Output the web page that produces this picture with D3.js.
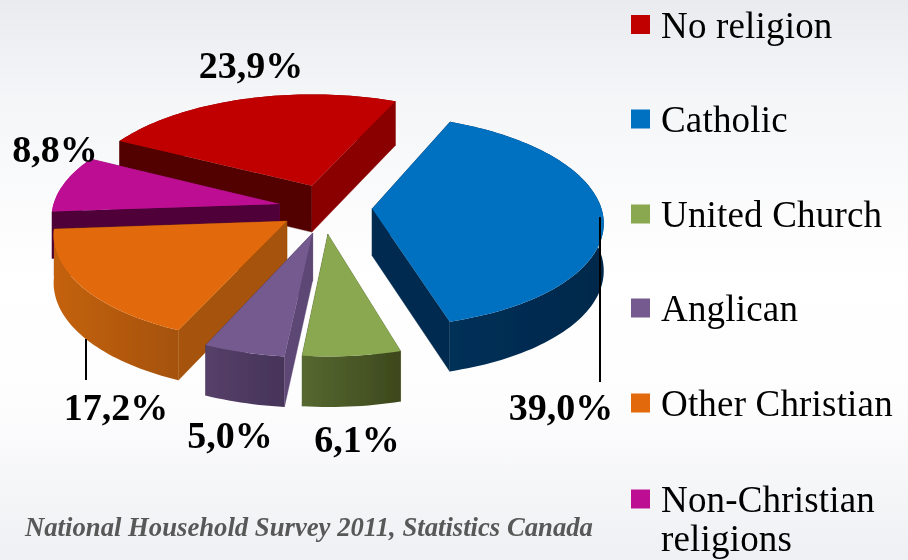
<!DOCTYPE html>
<html><head><meta charset="utf-8">
<script src="https://cdnjs.cloudflare.com/ajax/libs/d3/7.8.5/d3.min.js"></script>
<style>html,body{margin:0;padding:0;background:#fff;overflow:hidden}svg{display:block}</style>
</head><body><svg id="c" width="908" height="560"></svg>
<script>
// Data
const categories = ["No religion","Catholic","United Church","Anglican","Other Christian","Non-Christian religions"];
const shares = [23.9,39.0,6.1,5.0,17.2,8.8];
const shareLabels = ["23,9%","39,0%","6,1%","5,0%","17,2%","8,8%"];
const caption = "National Household Survey 2011, Statistics Canada";

// Style and layout
const topColors = ["#c00000","#0070c0","#8aa84f","#755a90","#e26b0a","#bd1193"];
const startWall = ["#520000","#002c4f","#4f6030","#5d4675","#a55208","#4f0039"];
const endWall   = ["#8a0000","#002c4f","#3f4a1d","#463459","#8a4406","#8f0c6e"];
const rimFrom   = ["#8a0000","#003058","#566830","#564069","#c4620c","#a00f7c"];
const rimTo     = ["#8a0000","#00284a","#3d481c","#463459","#a55208","#8f0c6e"];
const explodeX = [-0.036,0.225,0.033,-0.031,-0.141,-0.176];
const explodeZ = [-0.235,-0.012,0.222,0.212,0.103,-0.057];
const radiusScale = [1.012,0.99,0.97,0.985,0.985,0.98];
const paintOrder = [0,1,5,4,3,2];
const labelX = [251,561,357,230,116,55];
const labelY = [78,420,452,448,420,162];
const legendY = [37.5,132,227,321,416,512];
const cx=320, cy=210, R=232, RK=106, persp=0.115, wallH=47;

const svg = d3.select("#c");
const defs = svg.append("defs");
const bg = defs.append("linearGradient").attr("id","bg").attr("x1",0).attr("x2",0).attr("y1",0).attr("y2",1);
[[0,"#e9ebef"],[0.18,"#f5f6f8"],[0.5,"#ffffff"],[0.72,"#fdfdfe"],[1,"#eff0f3"]].forEach(s=>bg.append("stop").attr("offset",s[0]).attr("stop-color",s[1]));
const soft = defs.append("filter").attr("id","soft").attr("x","-5%").attr("y","-5%").attr("width","110%").attr("height","110%");
soft.append("feGaussianBlur").attr("stdDeviation",0.55);
svg.append("rect").attr("width",908).attr("height",560).attr("fill","url(#bg)");
const root = svg.append("g").attr("filter","url(#soft)");

const pie = d3.pie().sort(null).startAngle(-62.5*Math.PI/180).endAngle((360-62.5)*Math.PI/180);
const arcs = pie(shares);
const sx = d3.scaleLinear().domain([0,1]).range([0,R]);
const sz = d3.scaleLinear().domain([0,1]).range([0,RK]);
function project(gx,gz){const w=1-persp*gz;return {x:cx+sx(gx)/w,y:cy+sz(gz)/w,h:wallH*Math.pow(w,-0.5)};}
const line = d3.line().x(d=>d.x).y(d=>d.y);

arcs.forEach((a,i)=>{
  const g = defs.append("linearGradient").attr("id","rim"+i).attr("x1",0).attr("x2",1).attr("y1",0).attr("y2",0);
  g.append("stop").attr("offset",0).attr("stop-color",rimFrom[i]);
  g.append("stop").attr("offset",1).attr("stop-color",rimTo[i]);
});

paintOrder.forEach(i=>{
  const a = arcs[i], ex=explodeX[i], ez=explodeZ[i], rs=radiusScale[i];
  const apex = project(ex,ez);
  const n = Math.max(8,Math.round((a.endAngle-a.startAngle)*40));
  const rim = d3.range(n+1).map(k=>{
    const t=a.startAngle+(a.endAngle-a.startAngle)*k/n;
    return project(ex+rs*Math.sin(t),ez-rs*Math.cos(t));
  });
  const down = p=>({x:p.x,y:p.y+p.h});
  const s = root.append("g").attr("class","slice").datum(categories[i]);
  const first=rim[0], last=rim[n];
  const startPath = line([apex,first,down(first),down(apex)])+"Z";
  const endPath = line([apex,last,down(last),down(apex)])+"Z";
  const startFront = Math.sin(a.startAngle)<0, endFront = Math.sin(a.endAngle)>0;
  const wall=(d,c)=>s.append("path").attr("d",d).attr("fill",c).attr("stroke",c).attr("stroke-width",.4);
  if(!startFront) wall(startPath,startWall[i]);
  if(!endFront) wall(endPath,endWall[i]);
  s.append("path").attr("d",line(rim.concat(rim.slice().reverse().map(down)))+"Z").attr("fill","url(#rim"+i+")");
  if(startFront) wall(startPath,startWall[i]);
  if(endFront) wall(endPath,endWall[i]);
  s.append("path").attr("d",line([apex].concat(rim))+"Z").attr("fill",topColors[i]);
});

// Leader lines
root.append("line").attr("x1",600).attr("x2",600).attr("y1",217).attr("y2",382).attr("stroke","#000").attr("stroke-width",2);
root.append("line").attr("x1",86).attr("x2",86).attr("y1",339).attr("y2",380).attr("stroke","#000").attr("stroke-width",2);

// Percent labels
root.selectAll("text.pct").data(shareLabels).join("text").attr("class","pct")
  .attr("x",(d,i)=>labelX[i]).attr("y",(d,i)=>labelY[i]).attr("text-anchor","middle")
  .attr("font-family","'Liberation Serif'").attr("font-weight","bold").attr("font-size",38).attr("fill","#000").text(d=>d);

// Legend
const leg = root.selectAll("g.leg").data(categories).join("g").attr("class","leg");
leg.append("rect").attr("x",631).attr("y",(d,i)=>legendY[i]-22.5).attr("width",19).attr("height",19).attr("fill",(d,i)=>topColors[i]);
leg.append("text").attr("font-family","'Liberation Serif'").attr("font-size",37).attr("fill","#000").attr("letter-spacing",0.18)
  .each(function(d,i){
    const t=d3.select(this), words=i===5?["Non-Christian","religions"]:[d];
    words.forEach((w,k)=>t.append("tspan").attr("x",661).attr("y",legendY[i]+k*39).text(w));
  });

// Caption
root.append("text").attr("x",25).attr("y",536).attr("font-family","'Liberation Serif'").attr("font-weight","bold").attr("font-style","italic")
  .attr("font-size",26.7).attr("fill","#595959").text(caption);
</script></body></html>
